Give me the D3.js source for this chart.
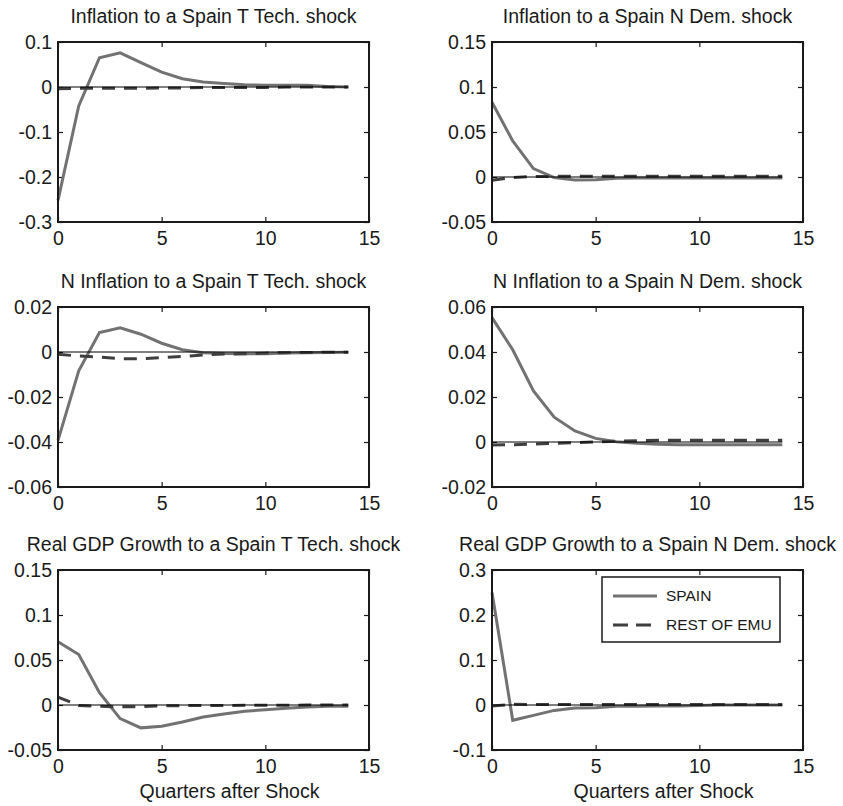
<!DOCTYPE html>
<html>
<head>
<meta charset="utf-8">
<script src="https://cdn.jsdelivr.net/npm/d3@7"></script>
<style>
  body { margin: 0; background: #fff; }
  svg text { font-family: "Liberation Sans", Arial, Helvetica, sans-serif; fill: #1a1a1a; }
</style>
</head>
<body>
<div id="chart"></div>
<script>
// quarters after the shock
var quarters = [0, 1, 2, 3, 4, 5, 6, 7, 8, 9, 10, 11, 12, 13, 14];

// inflation responses
var spainInfT = [-0.252, -0.042, 0.065, 0.076, 0.054, 0.033, 0.0185, 0.011, 0.008, 0.005, 0.004, 0.004, 0.004, 0.001, 0.0];
var emuInfT   = [-0.004, -0.003, -0.003, -0.003, -0.003, -0.002, -0.002, -0.001, -0.001, -0.001, -0.001, 0, 0, 0, 0];
var spainInfN = [0.083, 0.040, 0.0093, -0.0007, -0.0033, -0.003, -0.0015, -0.001, -0.001, -0.001, -0.001, -0.001, -0.001, -0.001, -0.001];
var emuInfN   = [-0.0035, -0.0005, 0.0005, 0.0007, 0.0007, 0.0007, 0.0007, 0.0007, 0.0007, 0.0007, 0.0007, 0.0007, 0.0007, 0.0007, 0.0007];

// non-traded inflation responses
var spainNInfT = [-0.0393, -0.0084, 0.0086, 0.0108, 0.0079, 0.0039, 0.001, -0.0003, -0.0007, -0.0008, -0.0008, -0.0005, -0.0003, -0.0002, -0.0001];
var emuNInfT   = [-0.001, -0.0018, -0.0022, -0.003, -0.003, -0.0025, -0.002, -0.0013, -0.0009, -0.0008, -0.0005, -0.0003, -0.0002, -0.0001, -0.0001];
var spainNInfN = [0.0553, 0.041, 0.0227, 0.011, 0.0049, 0.0016, 0.0001, -0.0006, -0.001, -0.0012, -0.0012, -0.0012, -0.0012, -0.0012, -0.0012];
var emuNInfN   = [-0.0013, -0.0012, -0.0009, -0.0006, -0.0003, 0, 0.0003, 0.0006, 0.0008, 0.0008, 0.0008, 0.0008, 0.0008, 0.0008, 0.0008];

// real GDP growth responses
var spainGdpT = [0.0703, 0.056, 0.0136, -0.0151, -0.0254, -0.0236, -0.0188, -0.0133, -0.0099, -0.007, -0.0052, -0.0037, -0.0022, -0.0015, -0.0015];
var emuGdpT   = [0.0088, -0.0005, -0.0015, -0.002, -0.0018, -0.001, -0.0007, -0.0006, -0.0005, -0.0004, -0.0003, -0.0002, -0.0001, -0.0001, 0];
var spainGdpN = [0.25, -0.034, -0.023, -0.012, -0.0066, -0.006, -0.003, -0.003, -0.002, -0.002, -0.001, 0, 0, 0, 0];
var emuGdpN   = [-0.002, 0.0015, 0.001, 0.001, 0.001, 0.001, 0.001, 0.001, 0.001, 0.001, 0.001, 0.001, 0.001, 0.001, 0.001];

var titles = [
  "Inflation to a Spain T Tech. shock",
  "Inflation to a Spain N Dem. shock",
  "N Inflation to a Spain T Tech. shock",
  "N Inflation to a Spain N Dem. shock",
  "Real GDP Growth to a Spain T Tech. shock",
  "Real GDP Growth to a Spain N Dem. shock"
];
var yTicks = [
  [-0.3, -0.2, -0.1, 0, 0.1],
  [-0.05, 0, 0.05, 0.1, 0.15],
  [-0.06, -0.04, -0.02, 0, 0.02],
  [-0.02, 0, 0.02, 0.04, 0.06],
  [-0.05, 0, 0.05, 0.1, 0.15],
  [-0.1, 0, 0.1, 0.2, 0.3]
];
var xTicks = [0, 5, 10, 15];
var seriesNames = ["SPAIN", "REST OF EMU"];
var xLabel = "Quarters after Shock";

var spainSeries = [spainInfT, spainInfN, spainNInfT, spainNInfN, spainGdpT, spainGdpN];
var emuSeries = [emuInfT, emuInfN, emuNInfT, emuNInfN, emuGdpT, emuGdpN];

var W = 843, H = 806;
var pw = 311, ph = 180;
var colX = [58, 492];
var rowY = [42, 307, 570];
var spainColor = "#727272", emuColor = "#3f3f3f";

var svg = d3.select("#chart").append("svg")
  .attr("width", W)
  .attr("height", H);

titles.forEach(function(title, i) {
  var col = i % 2, row = Math.floor(i / 2);
  var ticks = yTicks[i];

  var x = d3.scaleLinear().domain([0, 15]).range([0, pw]);
  var y = d3.scaleLinear().domain([ticks[0], ticks[ticks.length - 1]]).range([ph, 0]);

  var g = svg.append("g")
    .attr("transform", "translate(" + colX[col] + "," + rowY[row] + ")");

  // title
  g.append("text")
    .attr("x", pw / 2)
    .attr("y", -19)
    .attr("text-anchor", "middle")
    .attr("font-size", "19.5px")
    .text(title);

  var fmt = function(d) { return String(d); };

  // left / bottom axes, ticks pointing in
  var yAx = g.append("g")
    .call(d3.axisLeft(y).tickValues(ticks).tickSizeInner(-5).tickSizeOuter(0).tickPadding(6).tickFormat(fmt));
  var xAx = g.append("g")
    .attr("transform", "translate(0," + ph + ")")
    .call(d3.axisBottom(x).tickValues(xTicks).tickSizeInner(-5).tickSizeOuter(0).tickPadding(9).tickFormat(fmt));
  // mirrored ticks right / top
  var yAxR = g.append("g")
    .attr("transform", "translate(" + pw + ",0)")
    .call(d3.axisRight(y).tickValues(ticks).tickSizeInner(-5).tickSizeOuter(0).tickFormat(""));
  var xAxT = g.append("g")
    .call(d3.axisTop(x).tickValues(xTicks).tickSizeInner(-5).tickSizeOuter(0).tickFormat(""));

  [yAx, xAx, yAxR, xAxT].forEach(function(a) {
    a.select(".domain").remove();
    a.selectAll("line").attr("stroke", "#1a1a1a").attr("stroke-width", 1.2);
    a.selectAll("text").attr("font-size", "19.5px").attr("fill", "#1a1a1a")
      .attr("font-family", "'Liberation Sans', Arial, Helvetica, sans-serif");
  });

  var line = d3.line()
    .x(function(d, j) { return x(quarters[j]); })
    .y(function(d) { return y(d); });

  g.append("path")
    .datum(spainSeries[i])
    .attr("d", line)
    .attr("fill", "none")
    .attr("stroke", spainColor)
    .attr("stroke-width", 3);

  g.append("path")
    .datum(emuSeries[i])
    .attr("d", line)
    .attr("fill", "none")
    .attr("stroke", emuColor)
    .attr("stroke-width", 3)
    .attr("stroke-dasharray", "13,9");

  // zero reference line
  g.append("line")
    .attr("x1", x(quarters[0]))
    .attr("x2", x(quarters[quarters.length - 1]))
    .attr("y1", y(0))
    .attr("y2", y(0))
    .attr("stroke", "#000")
    .attr("stroke-width", 1);

  // box
  g.append("rect")
    .attr("width", pw)
    .attr("height", ph)
    .attr("fill", "none")
    .attr("stroke", "#1a1a1a")
    .attr("stroke-width", 2);

  if (row === 2) {
    g.append("text")
      .attr("x", pw / 2 + 16)
      .attr("y", ph + 48)
      .attr("text-anchor", "middle")
      .attr("font-size", "19.5px")
      .text(xLabel);
  }

  // legend in the last panel
  if (i === 5) {
    var lg = g.append("g").attr("transform", "translate(110,7)");
    lg.append("rect")
      .attr("width", 178)
      .attr("height", 65)
      .attr("fill", "#fff")
      .attr("stroke", "#1a1a1a")
      .attr("stroke-width", 1.5);
    seriesNames.forEach(function(name, k) {
      var yy = 19 + k * 29;
      lg.append("line")
        .attr("x1", 11).attr("x2", 55)
        .attr("y1", yy).attr("y2", yy)
        .attr("stroke", k === 0 ? spainColor : emuColor)
        .attr("stroke-width", 3)
        .attr("stroke-dasharray", k === 0 ? null : "15,8");
      lg.append("text")
        .attr("x", 64)
        .attr("y", yy)
        .attr("dy", "0.35em")
        .attr("font-size", "15.5px")
        .text(name);
    });
  }
});
</script>
</body>
</html>
